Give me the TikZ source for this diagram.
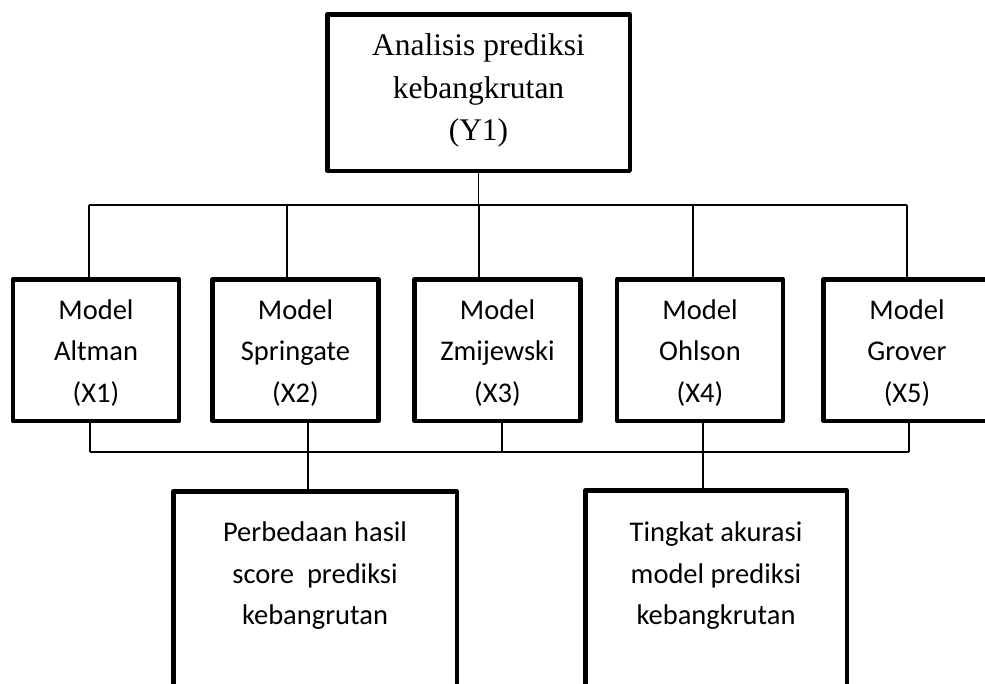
\documentclass[tikz,border=0pt]{standalone}
\usepackage{fontspec}
\setmainfont{Carlito}
\newfontfamily\serifTNR{Liberation Serif}
\begin{document}
\begin{tikzpicture}[x=1pt,y=-1pt,
  box/.style={draw, line width=4.5pt, line join=round, inner sep=0pt},
  modelbox/.style={box, minimum width=166, minimum height=141.5},
  txt/.style={inner sep=0pt, align=center, font=\fontsize{28.5}{41.5}\selectfont},
  conn/.style={line width=1.6pt}]
\useasboundingbox (0,0) rectangle (985,683);
\fill[white] (0,0) rectangle (985,683);
\clip (0,0) rectangle (985,683);

% top box
\node[box, minimum width=302.5, minimum height=156.5] (top) at (478.5,92.5) {};
\node[txt, font=\serifTNR\fontsize{31.5}{42.5}\selectfont] (topt) at (478.5,90.5)
  {Analisis prediksi\\kebangkrutan\\(Y1)};

% model boxes
\node[modelbox] (m1) at (96,350) {};
\node[modelbox] (m2) at (295.5,350) {};
\node[modelbox] (m3) at (497.5,350) {};
\node[modelbox] (m4) at (700,350) {};
\node[modelbox, minimum width=167.5] (m5) at (907,350) {};
\node[txt] (m1t) at (96,353)    {Model\\Altman\\(X1)};
\node[txt] (m2t) at (295.5,353) {Model\\Springate\\(X2)};
\node[txt] (m3t) at (497.5,353) {Model\\Zmijewski\\(X3)};
\node[txt] (m4t) at (700,353)   {Model\\Ohlson\\(X4)};
\node[txt] (m5t) at (907,353)   {Model\\Grover\\(X5)};

% bottom boxes
\node[box, minimum width=283.5, minimum height=300] (pA) at (315,641.25) {};
\node[box, minimum width=261.5, minimum height=300] (pB) at (716,640.25) {};
\node[txt] (pAt) at (315,576) {Perbedaan hasil\\score\ \ prediksi\\kebangrutan};
\node[txt] (pBt) at (716,576) {Tingkat akurasi\\model prediksi\\kebangkrutan};

% upper connectors
\coordinate (a1) at (89,205);
\coordinate (a2) at (287,205);
\coordinate (a3) at (479,205);
\coordinate (a4) at (693,205);
\coordinate (a5) at (907,205);
\draw[conn] (top.south) -- (top.south |- a3);
\draw[conn] (a1) -- (a5);
\draw[conn] (a1) -- (a1 |- m1.north);
\draw[conn] (a2) -- (a2 |- m2.north);
\draw[conn] (a3) -- (a3 |- m3.north);
\draw[conn] (a4) -- (a4 |- m4.north);
\draw[conn] (a5) -- (a5 |- m5.north);

% lower connectors
\coordinate (b1) at (90,452);
\coordinate (b2) at (308,452);
\coordinate (b3) at (502,452);
\coordinate (b4) at (703,452);
\coordinate (b5) at (909,452);
\draw[conn] (b1) -- (b5);
\draw[conn] (b1 |- m1.south) -- (b1);
\draw[conn] (b2 |- m2.south) -- (b2);
\draw[conn] (b3 |- m3.south) -- (b3);
\draw[conn] (b4 |- m4.south) -- (b4);
\draw[conn] (b5 |- m5.south) -- (b5);
\draw[conn] (b2) -- (b2 |- pA.north);
\draw[conn] (b4) -- (b4 |- pB.north);
\end{tikzpicture}
\end{document}
